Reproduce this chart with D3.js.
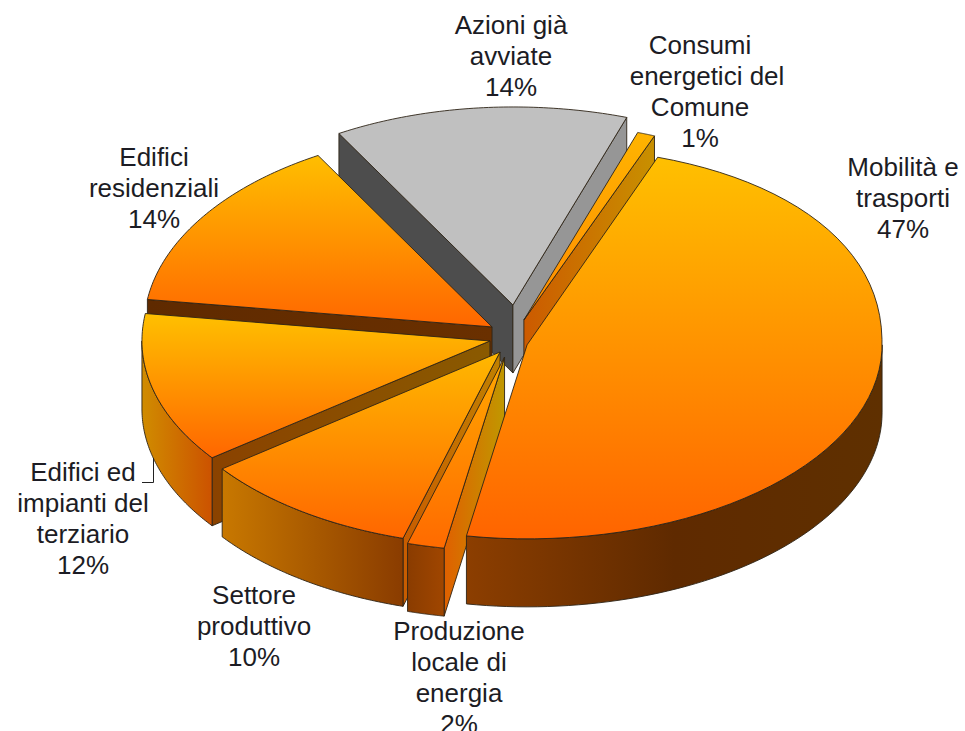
<!DOCTYPE html>
<html>
<head>
<meta charset="utf-8">
<script src="https://cdn.jsdelivr.net/npm/d3@7"></script>
<style>
  html, body { margin: 0; background: #fff; }
  svg { display: block; }
  text { font-family: "Liberation Sans", Arial, sans-serif; font-size: 26px; fill: #1c1c24; }
</style>
</head>
<body>
<svg id="chart" width="965" height="731"></svg>
<script>
const categories = ['Azioni già avviate', 'Consumi energetici del Comune', 'Mobilità e trasporti',
  'Produzione locale di energia', 'Settore produttivo', 'Edifici ed impianti del terziario', 'Edifici residenziali']
const shownPercent = ['14%', '1%', '47%', '2%', '10%', '12%', '14%']
// slice sizes as measured on the drawing, the printed labels are rounded
const shares = [13.53, 0.8, 46.78, 1.72, 10.22, 12.5, 14.45]
// how far each slice is pulled out of the pie, in pie radii
const pullX = [-0.006, 0.025, 0.034, -0.03, -0.043, -0.072, -0.066]
const pullY = [-0.177, -0.101, 0.025, 0.088, 0.062, 0.005, -0.066]
const rimPower = [2, 2, 2.2, 2, 2, 2, 2]
const labelLines = [
  ['Azioni già', 'avviate'],
  ['Consumi', 'energetici del', 'Comune'],
  ['Mobilità e', 'trasporti'],
  ['Produzione', 'locale di', 'energia'],
  ['Settore', 'produttivo'],
  ['Edifici ed', 'impianti del', 'terziario'],
  ['Edifici', 'residenziali']
]
const labelX = [511, 700, 903, 459, 254, 83, 154]
const labelY = [25, 45, 167, 631, 595, 472, 157]
const drawOrder = [0, 1, 6, 5, 4, 3, 2]

const topColors = [
  ['#c0c0c0', '#c0c0c0'], ['#ffb400', '#ff8a00'], ['#ffc000', '#ff6400'], ['#ffa800', '#ff6a00'],
  ['#ffb800', '#ff6600'], ['#ffc000', '#ff6600'], ['#ffbe00', '#ff6600']
]
const rimColors = [
  ['#808080', '#808080'], ['#c07800', '#c07800'], ['#8c3e00', '#5f2a00', '#5f3000'], ['#8a3c00', '#a04600'],
  ['#c87800', '#8a3c00'], ['#d08c00', '#cc5200'], ['#8a4200', '#8a4200']
]
const cutColors = [
  ['#4d4d4d', '#4d4d4d'], ['#cc5a00', '#c89000'], ['#555', '#555'], ['#e06000', '#c09800'],
  ['#c85c00', '#c08000'], ['#8a4200', '#8a5a00'], ['#5f2a00', '#6a3000']
]
const endCutColors = [['#969696', '#969696'], ['#cc5a00', '#c89000']]

const svg = d3.select('#chart')
const x = d3.scaleLinear().domain([-1, 0, 1]).range([167, 515, 870])
const y = d3.scaleLinear().domain([-1, 0, 1]).range([142, 340, 534])
const depth = 68
const toRad = Math.PI / 180

const arcs = d3.pie().sort(null).value(d => d)
  .startAngle(-30 * toRad).endAngle(330 * toRad)(shares)

const defs = svg.append('defs')
function gradient(id, colors, vertical) {
  const g = defs.append('linearGradient').attr('id', id)
    .attr('x1', 0).attr('y1', 0).attr('x2', vertical ? 0 : 1).attr('y2', vertical ? 1 : 0)
  colors.forEach((c, k) => {
    g.append('stop').attr('offset', k / (colors.length - 1)).attr('stop-color', c)
  })
  return `url(#${id})`
}

const line = d3.line().x(d => d[0]).y(d => d[1])

function drawFace(points, fill) {
  svg.append('path')
    .attr('d', line(points) + 'Z')
    .attr('fill', fill)
    .attr('stroke', '#2e2416')
    .attr('stroke-width', 0.9)
    .attr('stroke-linejoin', 'round')
}

function drawSlice(i) {
  const a = arcs[i]
  const ox = pullX[i]
  const oy = pullY[i]
  const apex = [x(ox), y(oy)]
  const n = rimPower[i]
  const rim = t => {
    const s = Math.sin(t)
    // the back right of the big slice bulges a little past a true ellipse
    const c = t > 0 && t < Math.PI / 2 ? Math.pow(1 - Math.pow(s, n), 1 / n) : Math.cos(t)
    return [x(ox + s), y(oy - c)]
  }
  const down = p => [p[0], p[1] + depth]
  const sweep = (t0, t1) => d3.range(0, 61).map(k => rim(t0 + (t1 - t0) * k / 60))

  // cut faces first, only those turned to the viewer
  if (Math.sin(a.startAngle) < 0) {
    const p = rim(a.startAngle)
    drawFace([apex, p, down(p), down(apex)], gradient(`cut${i}`, cutColors[i]))
  }
  if (Math.sin(a.endAngle) > 0 && i < 2) {
    const p = rim(a.endAngle)
    drawFace([apex, p, down(p), down(apex)], gradient(`end${i}`, endCutColors[i]))
  }
  // outer wall on the front half of the rim
  const t0 = Math.max(a.startAngle, 90 * toRad)
  const t1 = Math.min(a.endAngle, 270 * toRad)
  if (t1 > t0) {
    const edge = sweep(t0, t1)
    drawFace(edge.concat(edge.map(down).reverse()), gradient(`rim${i}`, rimColors[i]))
  }
  drawFace([apex].concat(sweep(a.startAngle, a.endAngle)), gradient(`top${i}`, topColors[i], true))
}

drawOrder.forEach(drawSlice)

// labels
categories.forEach((name, i) => {
  const t = svg.append('text').attr('text-anchor', 'middle').attr('aria-label', name)
  labelLines[i].concat(shownPercent[i]).forEach((s, k) => {
    // the long middle line of the Consumi label sits a bit right of the others
    const nudge = i === 1 && k === 1 ? 7 : 0
    t.append('tspan').attr('x', labelX[i] + nudge).attr('y', labelY[i] + 9 + k * 31).text(s)
  })
})

// leader of the terziario label
svg.append('path')
  .attr('d', d3.line()([[153.5, 458], [153.5, 482.5], [142, 482.5]]))
  .attr('fill', 'none').attr('stroke', '#222').attr('stroke-width', 1)
</script>
</body>
</html>
